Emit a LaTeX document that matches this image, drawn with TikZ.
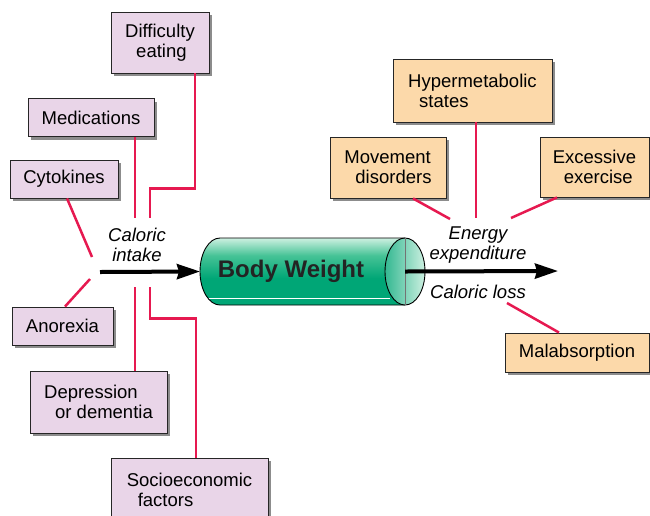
\documentclass[tikz,border=0pt]{standalone}
\usepackage{fontspec}
\setmainfont{Liberation Sans}
\usetikzlibrary{arrows.meta,shadows,calc,positioning}
\definecolor{linkred}{RGB}{230,25,80}
\definecolor{pinkbox}{RGB}{233,213,232}
\definecolor{peachbox}{RGB}{252,217,170}
\definecolor{cylltgreen}{RGB}{205,240,225}
\definecolor{cylmid}{RGB}{70,195,150}
\definecolor{cylgreen}{RGB}{0,166,118}
\definecolor{bwtext}{RGB}{35,35,35}
\pgfdeclareverticalshading{cylbody}{100bp}{color(0bp)=(cylgreen); color(25bp)=(cylgreen);
  color(45bp)=(cylgreen); color(62bp)=(cylmid); color(75bp)=(cylltgreen); color(100bp)=(cylltgreen)}
\tikzset{>=latex}
\tikzset{
  cause/.style={draw=black!85, line width=0.9pt, inner sep=0pt, align=left,
    font=\fontsize{18.5}{20}\selectfont,
    drop shadow={shadow xshift=3pt, shadow yshift=-3pt, fill=black!45, opacity=1}},
  intakebox/.style={cause, fill=pinkbox},
  lossbox/.style={cause, fill=peachbox},
  link/.style={draw=linkred, line width=2.5pt},
  flow/.style={line width=4pt, -{Stealth[length=23pt,width=15pt,inset=2pt]}},
  flowlabel/.style={align=center, font=\fontsize{18.5}{20}\selectfont\itshape}
}
\newcommand{\ind}{\\\hspace*{11pt}}

\begin{document}
\begin{tikzpicture}[x=1pt,y=-1pt]
  \useasboundingbox (0,0) rectangle (650,515);
  % causes of reduced intake
  \node[intakebox, minimum width=98pt, minimum height=61pt] (diff) at (160,42.5) {Difficulty\ind eating};
  \node[intakebox, minimum width=126pt, minimum height=38pt] (med) at (91,117.5) {Medications};
  \node[intakebox, minimum width=108pt, minimum height=38pt] (cyt) at (64,179) {Cytokines};
  \node[intakebox, minimum width=101pt, minimum height=38pt] (ano) at (62.5,326) {Anorexia};
  \node[intakebox, minimum width=137pt, minimum height=62pt] (dep) at (98.5,402) {Depression\ind or dementia};
  \node[intakebox, minimum width=157pt, minimum height=64pt] (soc) at (189.5,490) {Socioeconomic\ind factors};
  % causes of increased loss
  \node[lossbox, minimum width=159pt, minimum height=63pt] (hyp) at (472.5,90.5) {Hypermetabolic\ind states};
  \node[lossbox, minimum width=116pt, minimum height=61pt] (mov) at (388,167.5) {Movement\ind disorders};
  \node[lossbox, minimum width=109pt, minimum height=60pt] (exc) at (594.5,167) {Excessive\ind exercise};
  \node[lossbox, minimum width=144pt, minimum height=39pt] (mal) at (577,352.5) {Malabsorption};

  \coordinate (ci1) at (135,218);
  \coordinate (ci2) at (150,218);
  \coordinate (ci3) at (135,287);
  \coordinate (ci4) at (150,287);
  \coordinate (ci5) at (92,257);
  \coordinate (ci6) at (90,279);
  \coordinate (ee1) at (450,219);
  \coordinate (ee2) at (476,218);
  \coordinate (ee3) at (511,218);
  \coordinate (cl1) at (507,303);

  \draw[link] ([xshift=35pt]diff.south) -- ++(0,115) -| (ci2);
  \draw[link] (med.south -| ci1) -- (ci1);
  \draw[link] ([xshift=3pt]cyt.south) -- (ci5);
  \draw[link] ([xshift=2.5pt]ano.north) -- (ci6);
  \draw[link] (dep.north -| ci3) -- (ci3);
  \draw[link] ([xshift=6.5pt]soc.north) -- ++(0,-139) -| (ci4);
  \draw[link] ([xshift=25pt]mov.south) -- (ee1);
  \draw[link] (hyp.south -| ee2) -- (ee2);
  \draw[link] ([xshift=-37.5pt]exc.south) -- (ee3);
  \draw[link] ([xshift=-18pt]mal.north) -- (cl1);

  % the cylinder
  \coordinate (cylL) at (200,271.5);
  \coordinate (cylR) at (405,271.5);
  \shade[shading=cylbody]
    (220,238) -- (405,238) -- (405,305) -- (220,305)
    arc[start angle=270, end angle=90, x radius=20pt, y radius=33.5pt] -- cycle;
  \draw[white, line width=0.8pt] (207,298) -- (390,298);
  \draw[line width=0.9pt] (405,238) -- (220,238)
    arc[start angle=90, end angle=270, x radius=20pt, y radius=33.5pt] -- (405,305);
  \draw[line width=0.9pt, left color=cylgreen!80, right color=cylltgreen]
    (cylR) ellipse[x radius=20pt, y radius=33.5pt];
  \draw[black!55, line width=0.6pt] (405,238) -- (405,305);
  \node[font=\fontsize{24}{26}\selectfont\bfseries, text=bwtext] (bw) at (291,271) {Body Weight};

  \coordinate (ci0) at (100,272);
  \coordinate (ee0) at (558,271);
  \draw[flow] (ci0) -- (cylL);
  \draw[flow] (cylR) -- (ee0);

  \node[flowlabel] (intake) at (137,245) {Caloric\\intake};
  \node[flowlabel] (energy) at (478,245) {Energy\\expenditure};
  \node[flowlabel] (loss) at (478,292) {Caloric loss};
\end{tikzpicture}
\end{document}
